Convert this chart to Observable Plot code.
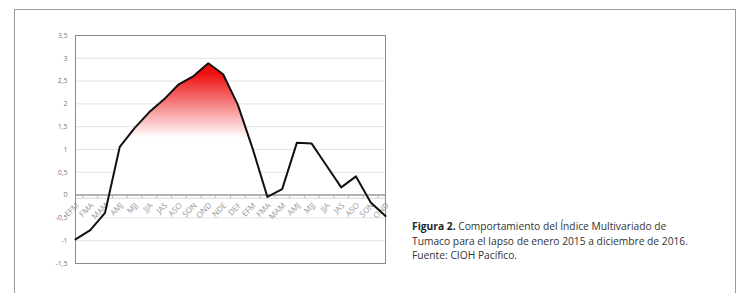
<!DOCTYPE html>
<html>
<head>
<meta charset="utf-8">
<script src="https://cdn.jsdelivr.net/npm/d3@7"></script>
<script src="https://cdn.jsdelivr.net/npm/@observablehq/plot@0.6"></script>
<style>
  html, body { margin: 0; padding: 0; background: #fff; }
  body { width: 741px; height: 293px; position: relative; overflow: hidden; font-family: "Open Sans", sans-serif; }
  #chart { position: absolute; left: 0; top: 0; }
  #box { position: absolute; left: 14px; top: 9px; width: 722px; height: 300px; border: 1px solid #9a9a9a; box-sizing: border-box; }
  #caption { position: absolute; left: 412px; top: 219px; font-size: 10.25px; line-height: 14.5px; color: #333; width: 320px; }
  #caption b { color: #222; }
</style>
</head>
<body>
<div id="chart"></div>
<div id="box"></div>
<div id="caption"><b>Figura 2.</b> Comportamiento del Índice Multivariado de<br>Tumaco para el lapso de enero 2015 a diciembre de 2016.<br>Fuente: CIOH Pacífico.</div>
<script>
const labels = ["EFM","FMA","MAM","AMJ","MJJ","JJA","JAS","ASO","SON","OND","NDE","DEF","EFM","FMA","MAM","AMJ","MJJ","JJA","JAS","ASO","SON","OND"];
const values = [-0.97,-0.77,-0.39,1.06,1.47,1.82,2.1,2.43,2.61,2.89,2.65,1.98,1.02,-0.04,0.13,1.15,1.13,0.65,0.17,0.41,-0.16,-0.46];
const yTicks = [-1.5,-1,-0.5,0,0.5,1,1.5,2,2.5,3,3.5];

const data = values.map((v, i) => ({i, v, label: labels[i]}));
const betweenTicks = d3.range(labels.length - 1).map(i => i + 0.5);
const vMax = d3.max(values), vMin = Math.min(0, d3.min(values));
const whiteOffset = (vMax - 1.25) / (vMax - vMin);

const gradientMark = () => {
  const ns = "http://www.w3.org/2000/svg";
  const defs = document.createElementNS(ns, "defs");
  const g = document.createElementNS(ns, "linearGradient");
  g.setAttribute("id", "redfade");
  g.setAttribute("x1", "0"); g.setAttribute("x2", "0");
  g.setAttribute("y1", "0"); g.setAttribute("y2", "1");
  [[0, "#ee0e0e"], [0.06, "#ee1010"], [whiteOffset, "#ffffff"], [1, "#ffffff"]].forEach(([o, c]) => {
    const s = document.createElementNS(ns, "stop");
    s.setAttribute("offset", o);
    s.setAttribute("stop-color", c);
    g.appendChild(s);
  });
  defs.appendChild(g);
  return defs;
};

const chart = Plot.plot({
  width: 400,
  height: 293,
  marginLeft: 75,
  marginRight: 15,
  marginTop: 35,
  marginBottom: 30,
  style: {fontFamily: "'Open Sans', sans-serif", fontSize: "7px", color: "#777", background: "transparent", overflow: "visible"},
  x: {type: "linear", domain: [0, labels.length - 1], axis: null},
  y: {domain: [-1.5, 3.5], ticks: yTicks, tickFormat: d => String(d).replace(".", ","), tickSize: 0, tickPadding: 8, label: null},
  marks: [
    gradientMark,
    Plot.ruleY(yTicks.filter(d => d !== 0 && d !== -1.5 && d !== 3.5), {stroke: "#e2e2e2", strokeWidth: 1}),
    Plot.areaY(data, {x: "i", y1: 0, y2: "v", fill: "url(#redfade)"}),
    Plot.ruleY([0], {stroke: "#9a9a9a", strokeWidth: 1.5}),
    Plot.ruleX(betweenTicks, {x: d => d, y1: 0, y2: -0.07, stroke: "#b0b0b0", strokeWidth: 1}),
    Plot.ruleY([-0.07], {stroke: "#d8d8d8", strokeWidth: 1}),
    Plot.frame({stroke: "#8a8a8a", strokeWidth: 1}),
    Plot.text(data, {x: "i", y: () => 0, text: "label", rotate: -45, textAnchor: "end", dx: 2, dy: 9, fill: "#999", fontSize: 8}),
    Plot.line(data, {x: "i", y: "v", stroke: "#111", strokeWidth: 2})
  ]
});
document.getElementById("chart").appendChild(chart);
</script>
</body>
</html>
